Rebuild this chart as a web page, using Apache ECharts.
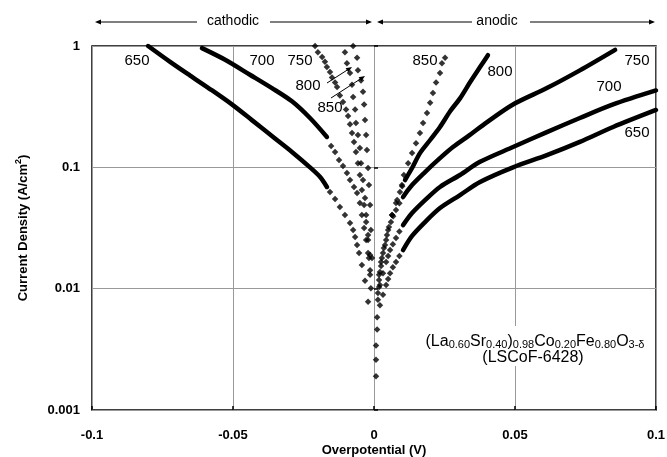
<!DOCTYPE html>
<html>
<head>
<meta charset="utf-8">
<script src="https://cdn.jsdelivr.net/npm/echarts@6/dist/echarts.min.js"></script>
<style>
  html, body { margin: 0; padding: 0; background: #fff; }
  #chart { width: 667px; height: 457px; }
</style>
</head>
<body>
<div id="chart"></div>
<script>
// Tafel plot of (La0.60Sr0.40)0.98Co0.20Fe0.80O3-d at 650-850 C
// Each branch: [overpotential (V), |current density| (A/cm2)]
const xTicks = [-0.1, -0.05, 0, 0.05, 0.1];
const yTicks = [0.001, 0.01, 0.1, 1];

// cathodic branches (negative overpotential)
const cath650Dense = [[-0.0801, 1.0], [-0.0723, 0.74], [-0.0652, 0.57], [-0.0574, 0.43], [-0.0504, 0.33], [-0.0433, 0.245], [-0.0362, 0.181], [-0.0291, 0.134], [-0.0227, 0.100], [-0.0191, 0.0832], [-0.0167, 0.0689]];
const cath650Dots = [[-0.0156, 0.0626], [-0.0138, 0.0548], [-0.0121, 0.0471], [-0.0103, 0.0404], [-0.0085, 0.0347], [-0.0074, 0.0304], [-0.0067, 0.0266], [-0.0060, 0.0229], [-0.0053, 0.0197], [-0.0043, 0.0157], [-0.0032, 0.0116], [-0.0021, 0.0078]];
const cath700Dense = [[-0.0610, 0.96], [-0.0528, 0.77], [-0.0440, 0.58], [-0.0362, 0.45], [-0.0291, 0.35], [-0.0227, 0.255], [-0.0167, 0.178]];
const cath700Dots = [[-0.0152, 0.150], [-0.0138, 0.134], [-0.0124, 0.115], [-0.0110, 0.1025], [-0.0096, 0.0897], [-0.0085, 0.0786], [-0.0071, 0.0689], [-0.0060, 0.0614], [-0.0050, 0.0508], [-0.0043, 0.0404], [-0.0035, 0.0316], [-0.0028, 0.0252], [-0.0021, 0.0197], [-0.0014, 0.0142], [-0.0011, 0.0101]];
const cath750Dots = [[-0.0209, 1.0], [-0.0199, 0.89], [-0.0184, 0.81], [-0.0174, 0.74], [-0.0167, 0.67], [-0.0156, 0.61], [-0.0149, 0.55], [-0.0138, 0.50], [-0.0131, 0.46], [-0.0121, 0.39], [-0.0110, 0.345], [-0.0099, 0.30], [-0.0092, 0.265], [-0.0085, 0.227], [-0.0078, 0.192], [-0.0071, 0.162], [-0.0064, 0.134], [-0.0057, 0.108], [-0.0050, 0.0865], [-0.0043, 0.065], [-0.0035, 0.0489], [-0.0028, 0.0354], [-0.0021, 0.0252], [-0.0018, 0.0179], [-0.0014, 0.0130]];
const cath800Dots = [[-0.0103, 0.89], [-0.0096, 0.72], [-0.0085, 0.60], [-0.0078, 0.48], [-0.0074, 0.38], [-0.0067, 0.30], [-0.0064, 0.232], [-0.0057, 0.185], [-0.0050, 0.144], [-0.0046, 0.108], [-0.0039, 0.0786], [-0.0032, 0.0558], [-0.0028, 0.0404], [-0.0021, 0.0277], [-0.0014, 0.0189]];
const cath850Dots = [[-0.0074, 1.0], [-0.0060, 0.80], [-0.0057, 0.63], [-0.0046, 0.52], [-0.0039, 0.42], [-0.0035, 0.33], [-0.0032, 0.245], [-0.0028, 0.185], [-0.0025, 0.139], [-0.0021, 0.0987], [-0.0018, 0.0715], [-0.0014, 0.0489], [-0.0011, 0.0304], [-0.0007, 0.0179]];

// anodic branches (positive overpotential)
const anod650Dense = [[0.1, 0.297], [0.0848, 0.215], [0.0730, 0.162], [0.0613, 0.126], [0.0493, 0.100], [0.0376, 0.0757], [0.0305, 0.0591], [0.0234, 0.0462], [0.0181, 0.0354], [0.0135, 0.0272], [0.0103, 0.0208]];
const anod650Dots = [[0.0090, 0.0186], [0.0078, 0.0166], [0.0067, 0.0150], [0.0057, 0.0134], [0.0050, 0.0120], [0.0043, 0.0107], [0.0032, 0.0089], [0.0021, 0.0073]];
const anod700Dense = [[0.1, 0.43], [0.0848, 0.33], [0.0730, 0.255], [0.0613, 0.195], [0.0493, 0.147], [0.0376, 0.111], [0.0305, 0.0865], [0.0234, 0.0689], [0.0181, 0.0537], [0.0135, 0.0420], [0.0103, 0.0334]];
const anod700Dots = [[0.0090, 0.0296], [0.0078, 0.0261], [0.0067, 0.0232], [0.0057, 0.0208], [0.0050, 0.0186], [0.0043, 0.0166], [0.0032, 0.0134], [0.0021, 0.0107]];
const anod750Dense = [[0.0855, 0.93], [0.0730, 0.63], [0.0613, 0.45], [0.0493, 0.33], [0.0401, 0.236], [0.0340, 0.185], [0.0280, 0.147], [0.0234, 0.119], [0.0181, 0.0915], [0.0135, 0.0715], [0.0103, 0.0569]];
const anod750Dots = [[0.0090, 0.0505], [0.0078, 0.0445], [0.0068, 0.0395], [0.0060, 0.0354], [0.0046, 0.0277], [0.0035, 0.0216], [0.0025, 0.0166], [0.0018, 0.0130]];
const anod800Dense = [[0.0404, 0.84], [0.0376, 0.67], [0.0340, 0.50], [0.0305, 0.37], [0.0270, 0.29], [0.0234, 0.215], [0.0199, 0.168], [0.0163, 0.131], [0.0135, 0.0987], [0.0110, 0.0786]];
const anod800Dots = [[0.0100, 0.0700], [0.0092, 0.0626], [0.0078, 0.0508], [0.0064, 0.0404], [0.0053, 0.0322], [0.0043, 0.0252], [0.0032, 0.0197], [0.0025, 0.0154], [0.0018, 0.0118], [0.0014, 0.0092]];
const anod850Dots = [[0.0252, 0.80], [0.0241, 0.72], [0.0234, 0.60], [0.0220, 0.50], [0.0209, 0.41], [0.0199, 0.34], [0.0188, 0.28], [0.0174, 0.232], [0.0163, 0.192], [0.0149, 0.158], [0.0135, 0.131], [0.0121, 0.108], [0.0106, 0.0865], [0.0099, 0.0715], [0.0082, 0.0537], [0.0064, 0.0404], [0.0050, 0.0304], [0.0039, 0.0229], [0.0028, 0.0179], [0.0021, 0.0137], [0.0018, 0.0103], [0.0014, 0.0081], [0.0011, 0.0058], [0.0011, 0.0046], [0.0007, 0.0034], [0.0007, 0.0026], [0.0007, 0.0019]];

const FONT = '"Liberation Sans", Arial, Helvetica, sans-serif';

function denseSeries(data) {
  return {
    type: 'line', data: data, smooth: 0.3, showSymbol: false, symbol: 'none',
    lineStyle: { color: '#000', width: 4.5, cap: 'round', join: 'round' },
    z: 3, silent: true, animation: false
  };
}
function dotSeries(data) {
  return {
    type: 'scatter', data: data, symbol: 'diamond', symbolSize: 6.5,
    itemStyle: { color: '#000' }, z: 4, silent: true, animation: false
  };
}

// simple arrow: shaft from (x1,y1) to (x2,y2), filled head at (x2,y2)
function arrow(x1, y1, x2, y2, len, half) {
  const dx = x2 - x1, dy = y2 - y1, d = Math.hypot(dx, dy);
  const ux = dx / d, uy = dy / d, px = -uy, py = ux;
  const bx = x2 - ux * len, by = y2 - uy * len;
  return [
    { type: 'line', shape: { x1: x1, y1: y1, x2: bx, y2: by }, style: { stroke: '#000', lineWidth: 1 }, z: 10 },
    { type: 'polygon', shape: { points: [[x2, y2], [bx + px * half, by + py * half], [bx - px * half, by - py * half]] }, style: { fill: '#000' }, z: 10 }
  ];
}

function label(text, x, y, size) {
  return { type: 'text', x: x, y: y, z: 10,
    style: { text: text, font: (size || 15) + 'px ' + FONT, fill: '#000', align: 'center', verticalAlign: 'middle' } };
}

const chart = echarts.init(document.getElementById('chart'), null, { renderer: 'canvas' });

const graphics = [].concat(
  // direction banners above the plot
  arrow(197, 22, 95, 22, 6, 2.5),
  arrow(270, 22, 372, 22, 6, 2.5),
  [{ type: 'text', x: 233, y: 21, style: { text: 'cathodic', font: '14px ' + FONT, fill: '#000', align: 'center', verticalAlign: 'middle' } }],
  arrow(472, 22, 377, 22, 6, 2.5),
  arrow(530, 22, 655, 22, 6, 2.5),
  [{ type: 'text', x: 497, y: 21, style: { text: 'anodic', font: '14px ' + FONT, fill: '#000', align: 'center', verticalAlign: 'middle' } }],
  // temperature labels
  [label('650', 137, 61), label('700', 262, 61), label('750', 300, 61),
   label('800', 308, 86), label('850', 330, 108),
   label('850', 425, 61), label('800', 500, 72),
   label('750', 637, 61), label('700', 609, 87), label('650', 637, 133)],
  arrow(327, 83, 352, 67, 6, 2.5),
  arrow(331, 98, 365, 76, 6, 2.5),
  // composition
  [{ type: 'rect', shape: { x: 420, y: 326, width: 232, height: 40 }, style: { fill: '#fff' }, z: 5 },
   { type: 'text', x: 535, y: 341, z: 10,
     style: {
       text: '{n|(La}{s|0.60}{n|Sr}{s|0.40}{n|)}{s|0.98}{n|Co}{s|0.20}{n|Fe}{s|0.80}{n|O}{s|3-δ}',
       align: 'center', verticalAlign: 'middle', fill: '#000',
       rich: {
         n: { fontSize: 16, fontFamily: FONT, lineHeight: 18, verticalAlign: 'bottom', fill: '#000' },
         s: { fontSize: 11, fontFamily: FONT, lineHeight: 12, padding: [8, 0, 0, 0], verticalAlign: 'bottom', fill: '#000' }
       }
     } },
   label('(LSCoF-6428)', 533, 358, 16)]
);

chart.setOption({
  backgroundColor: '#fff',
  animation: false,
  grid: { left: 92, right: 11, top: 46, bottom: 47, show: true, borderColor: '#000', borderWidth: 1.5,
          backgroundColor: 'transparent', containLabel: false, outerBoundsMode: 'none' },
  xAxis: {
    type: 'value', min: xTicks[0], max: xTicks[xTicks.length - 1], interval: 0.05,
    axisLine: { show: false },
    axisTick: { show: true, inside: true, length: 4, lineStyle: { color: '#000', width: 1.5 } },
    splitLine: { show: true, lineStyle: { color: '#999', width: 1 } },
    axisLabel: { margin: 19, fontFamily: FONT, fontSize: 13, fontWeight: 'bold', color: '#000',
      formatter: v => { const t = xTicks.find(k => Math.abs(k - v) < 1e-9); return t === undefined ? '' : String(t); } },
    name: 'Overpotential (V)', nameLocation: 'middle', nameGap: 34, nameMoveOverlap: false,
    nameTextStyle: { fontFamily: FONT, fontSize: 13, fontWeight: 'bold', color: '#000' }
  },
  yAxis: {
    type: 'log', logBase: 10, min: yTicks[0], max: yTicks[yTicks.length - 1],
    axisLine: { show: false },
    axisTick: { show: true, inside: true, length: 4, lineStyle: { color: '#000', width: 1.5 } },
    splitLine: { show: true, lineStyle: { color: '#999', width: 1 } },
    axisLabel: { margin: 12, fontFamily: FONT, fontSize: 13, fontWeight: 'bold', color: '#000',
      formatter: v => { const t = yTicks.find(k => Math.abs(Math.log10(k) - Math.log10(v)) < 1e-6); return t === undefined ? '' : String(t); } },
    name: '{a|Current Density (A/cm}{b|2}{a|)}', nameLocation: 'middle', nameGap: 62,
    nameTextStyle: { color: '#000',
      rich: {
        a: { fontFamily: FONT, fontSize: 13, fontWeight: 'bold', color: '#000', lineHeight: 16, verticalAlign: 'bottom' },
        b: { fontFamily: FONT, fontSize: 9, fontWeight: 'bold', color: '#000', lineHeight: 16, verticalAlign: 'top', padding: [0, 0, 6, 0] }
      } }
  },
  series: [
    denseSeries(cath650Dense), dotSeries(cath650Dots),
    denseSeries(cath700Dense), dotSeries(cath700Dots),
    dotSeries(cath750Dots), dotSeries(cath800Dots), dotSeries(cath850Dots),
    denseSeries(anod650Dense), dotSeries(anod650Dots),
    denseSeries(anod700Dense), dotSeries(anod700Dots),
    denseSeries(anod750Dense), dotSeries(anod750Dots),
    denseSeries(anod800Dense), dotSeries(anod800Dots),
    dotSeries(anod850Dots)
  ],
  graphic: graphics
});
</script>
</body>
</html>
